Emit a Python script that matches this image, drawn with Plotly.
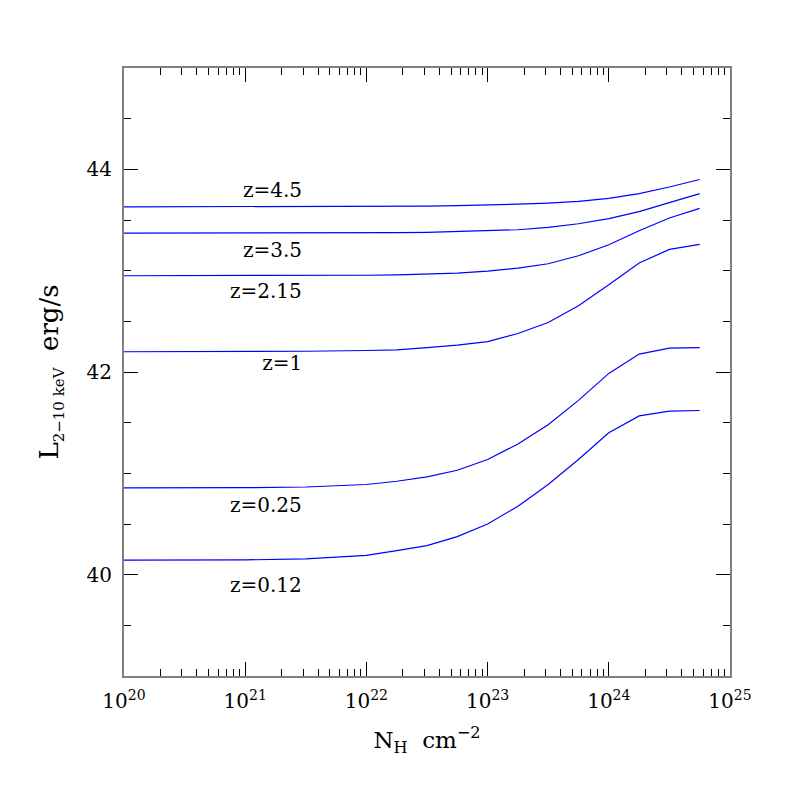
import plotly.graph_objects as go

# column density grid (cm^-2)
nh = [1e20, 3.16e20, 1e21, 3.16e21, 1e22, 1.78e22, 3.16e22, 5.62e22,
      1e23, 1.78e23, 3.16e23, 5.62e23, 1e24, 1.78e24, 3.16e24, 5.62e24]

# log L(2-10 keV) for each redshift
l_z450 = [43.63, 43.63, 43.63, 43.63, 43.632, 43.634, 43.637, 43.641,
          43.647, 43.656, 43.667, 43.683, 43.714, 43.76, 43.826, 43.90]
l_z350 = [43.37, 43.37, 43.37, 43.37, 43.373, 43.375, 43.378, 43.385,
          43.393, 43.404, 43.427, 43.463, 43.513, 43.582, 43.671, 43.76]
l_z215 = [42.95, 42.95, 42.95, 42.952, 42.955, 42.958, 42.963, 42.975,
          42.995, 43.026, 43.068, 43.147, 43.256, 43.394, 43.52, 43.615]
l_z100 = [42.20, 42.20, 42.20, 42.205, 42.212, 42.218, 42.24, 42.265,
          42.30, 42.38, 42.488, 42.653, 42.86, 43.075, 43.21, 43.26]
l_z025 = [40.856, 40.856, 40.858, 40.865, 40.89, 40.922, 40.965, 41.03,
          41.136, 41.29, 41.48, 41.72, 41.986, 42.177, 42.236, 42.24]
l_z012 = [40.144, 40.144, 40.146, 40.155, 40.19, 40.237, 40.287, 40.375,
          40.50, 40.675, 40.889, 41.136, 41.40, 41.567, 41.614, 41.62]

curves = [l_z450, l_z350, l_z215, l_z100, l_z025, l_z012]

labels = ["z=4.5", "z=3.5", "z=2.15", "z=1", "z=0.25", "z=0.12"]
label_x = [1.68e21, 1.68e21, 1.48e21, 2.02e21, 1.48e21, 1.48e21]
label_y = [43.78, 43.18, 42.78, 42.07, 40.67, 39.88]

xtick_vals = [1e20, 1e21, 1e22, 1e23, 1e24, 1e25]
xtick_text = ["10<sup>20</sup>", "10<sup>21</sup>", "10<sup>22</sup>",
              "10<sup>23</sup>", "10<sup>24</sup>", "10<sup>25</sup>"]

font = "DejaVu Serif"

fig = go.Figure()
for c in curves:
    fig.add_trace(go.Scatter(x=nh, y=c, mode="lines",
                             line=dict(color="#0000ff", width=1.2),
                             showlegend=False, hoverinfo="skip"))

fig.add_trace(go.Scatter(x=label_x, y=label_y, mode="text", text=labels,
                         textfont=dict(family=font, size=20, color="black"),
                         showlegend=False, hoverinfo="skip"))

axis_common = dict(showgrid=False, zeroline=False, showline=True,
                   linecolor="#808080", linewidth=2, mirror="allticks",
                   ticks="inside", tickcolor="black", tickwidth=1,
                   automargin=False, ticklabelstandoff=6,
                   tickfont=dict(family=font, size=20, color="black"))

fig.update_xaxes(type="log", range=[20, 25], tickvals=xtick_vals,
                 ticktext=xtick_text, ticklen=14,
                 minor=dict(ticks="inside", ticklen=7, tickcolor="black",
                            dtick="D1", showgrid=False),
                 title=dict(text="N<sub>H</sub>  cm<sup>−2</sup>",
                            font=dict(family=font, size=23, color="black"),
                            standoff=20),
                 **axis_common)
fig.update_yaxes(range=[39, 45], tick0=40, dtick=2, ticklen=14,
                 minor=dict(ticks="inside", ticklen=7, tickcolor="black",
                            dtick=0.5, showgrid=False),
                 title=dict(text="L<sub><span style='font-size:15px'>2−10 keV</span></sub>  erg/s",
                            font=dict(family=font, size=26, color="black"),
                            standoff=20),
                 **axis_common)

fig.update_layout(width=797, height=797, plot_bgcolor="white",
                  paper_bgcolor="white",
                  margin=dict(l=116, r=75, t=60, b=129))

fig.write_html("out.html")
